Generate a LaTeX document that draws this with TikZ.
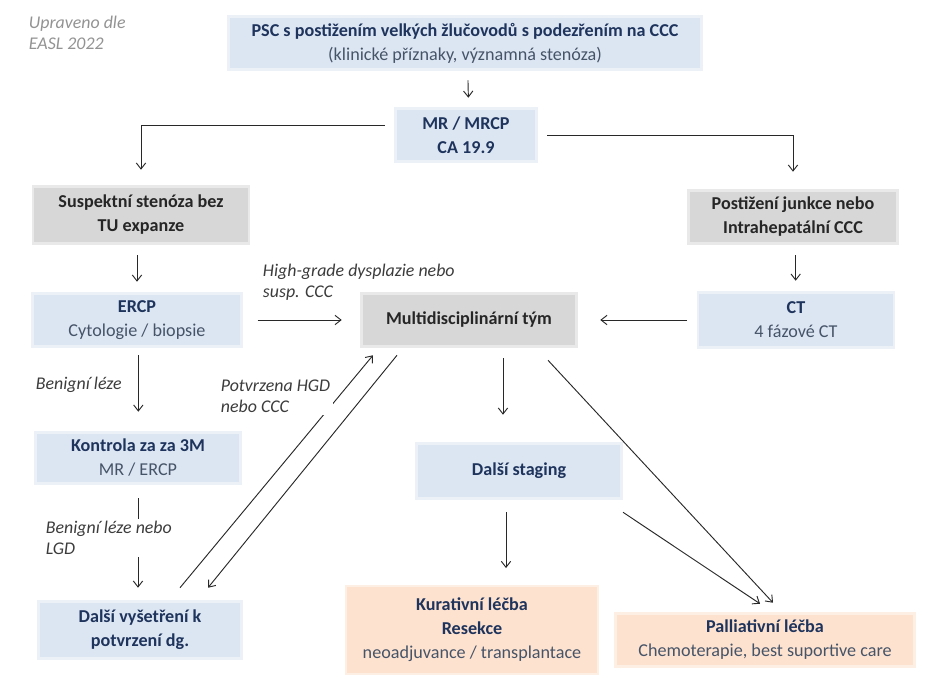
\documentclass[tikz,border=0pt]{standalone}
\usepackage{fontspec}
\setmainfont{Carlito}
\usetikzlibrary{arrows.meta}
\definecolor{boxblue}{RGB}{220,230,243}
\definecolor{boxgray}{RGB}{215,215,215}
\definecolor{boxpeach}{RGB}{253,226,208}
\definecolor{navy}{RGB}{31,52,92}
\definecolor{bgray}{RGB}{70,84,104}
\definecolor{linec}{RGB}{40,40,40}
\definecolor{labc}{RGB}{60,60,60}
\tikzset{
  box/.style={rectangle, inner sep=0pt, align=center, font=\fontsize{13.6}{18}\selectfont},
  soft/.style={preaction={draw=#1!55, line width=4pt}},
  bluebox/.style={box, fill=boxblue, soft=boxblue},
  graybox/.style={box, fill=boxgray, soft=boxgray, text=black!85},
  peachbox/.style={box, fill=boxpeach, soft=boxpeach},
  arr/.style={draw=linec, line width=0.7pt, -{Straight Barb[length=4.5pt,width=7pt]}},
  lab/.style={inner sep=2pt, align=left, anchor=west, text=labc, font=\fontsize{13.4}{15.5}\selectfont\itshape},
}
\newcommand{\hl}[1]{{\bfseries\color{navy}#1}}
\newcommand{\nl}[1]{{\color{bgray}#1}}
\begin{document}
\begin{tikzpicture}[x=0.75pt,y=-0.75pt]
\useasboundingbox[fill=white] (0,0) rectangle (927,680);

% boxes
\node[bluebox, minimum width=352.5pt, minimum height=37.5pt] (top) at (465,43)
  {\hl{PSC s postižením velkých žlučovodů s podezřením na CCC}\\ \nl{(klinické příznaky, významná stenóza)}};
\node[bluebox, minimum width=103.5pt, minimum height=37.5pt] (mr) at (466,135)
  {\hl{MR / MRCP}\\ \hl{CA 19.9}};
\node[graybox, minimum width=160pt, minimum height=40.5pt] (susp) at (141,215)
  {\bfseries Suspektní stenóza bez\\ \bfseries TU expanze};
\node[bluebox, minimum width=155pt, minimum height=37.5pt] (ercp) at (137,320)
  {\hl{ERCP}\\ \nl{Cytologie / biopsie}};
\node[graybox, minimum width=159pt, minimum height=37.5pt] (multi) at (469,320)
  {\bfseries Multidisciplinární tým};
\node[graybox, minimum width=155pt, minimum height=37.5pt] (junk) at (793,217)
  {\bfseries Postižení junkce nebo\\ \bfseries Intrahepatální CCC};
\node[bluebox, minimum width=145pt, minimum height=39pt] (ct) at (796,320)
  {\hl{CT}\\ \nl{4 fázové CT}};
\node[bluebox, minimum width=152pt, minimum height=36pt] (kontrola) at (138,458)
  {\hl{Kontrola za za 3M}\\ \nl{MR / ERCP}};
\node[bluebox, minimum width=150pt, minimum height=40.5pt] (dalsi) at (140,630)
  {\hl{Další vyšetření k}\\ \hl{potvrzení dg.}};
\node[bluebox, minimum width=151.5pt, minimum height=39pt] (staging) at (519,471)
  {\hl{Další staging}};
\node[peachbox, minimum width=187pt, minimum height=64pt] (kur) at (472,630)
  {\hl{Kurativní léčba}\\ \hl{Resekce}\\ \nl{neoadjuvance / transplantace}};
\node[peachbox, minimum width=222pt, minimum height=37.5pt] (pal) at (765,640)
  {\hl{Palliativní léčba}\\ \nl{Chemoterapie, best suportive care}};

% connectors
\draw[arr, shorten <=9pt, shorten >=9pt] ([xshift=2pt]top.south) -- ([xshift=2pt]mr.north);
\draw[arr] ([xshift=-9pt,yshift=7.5pt]mr.west) -| ([yshift=13.5pt]susp.north);
\draw[arr] ([xshift=9pt]mr.east) -| ([yshift=15pt]junk.north);
\draw[arr, shorten <=9.75pt, shorten >=9.75pt] ([xshift=-3pt]susp.south) -- ([xshift=-3pt]susp.south |- ercp.north);
\draw[arr, shorten <=12.75pt, shorten >=15.75pt] (ercp.east) -- (ercp.east -| multi.west);
\draw[arr, shorten <=9pt, shorten >=18.75pt] (ct.west) -- (ct.west -| multi.east);
\draw[arr, shorten <=9.75pt, shorten >=9.75pt] ([xshift=2pt]junk.south) -- ([xshift=2pt]junk.south |- ct.north);
\draw[arr, shorten <=7.5pt, shorten >=16.5pt] ([xshift=1pt]ercp.south) -- ([xshift=1pt]ercp.south |- kontrola.north);
\draw[arr, shorten <=12pt, shorten >=11.25pt] (kontrola.south) -- (kontrola.south |- dalsi.north);
\draw[arr] ([xshift=30pt,yshift=11.25pt]dalsi.north) -- ([xshift=-72pt,yshift=-7.5pt]multi.south);
\draw[arr] ([xshift=-54pt,yshift=-7.5pt]multi.south) -- ([xshift=51pt,yshift=11.25pt]dalsi.north);
\draw[arr] ([xshift=25.5pt,yshift=-9.75pt]multi.south) -- ([xshift=-12pt,yshift=22.5pt]staging.north);
\draw[arr] ([xshift=-9.75pt,yshift=-11.25pt]staging.south) -- ([xshift=25.5pt,yshift=14.25pt]kur.north);
\draw[arr] ([xshift=59.25pt,yshift=-11.25pt]multi.south) -- ([xshift=6pt,yshift=9pt]pal.north);
\draw[arr] ([xshift=78pt,yshift=-11.25pt]staging.south) -- ([xshift=-3.75pt,yshift=8.25pt]pal.north);

% labels
\node[lab, text=gray!85] (src) at (26,33) {Upraveno dle\\EASL 2022};
\node[lab] (lhg) at (260,282) {High-grade dysplazie nebo\\susp. CCC};
\node[lab] (lben) at (33,385) {Benigní léze};
\node[lab, fill=white] (lpot) at (218,396) {Potvrzena HGD\\nebo CCC};
\node[lab, fill=white] (lbl) at (43,538) {Benigní léze nebo\\LGD};
\end{tikzpicture}
\end{document}
